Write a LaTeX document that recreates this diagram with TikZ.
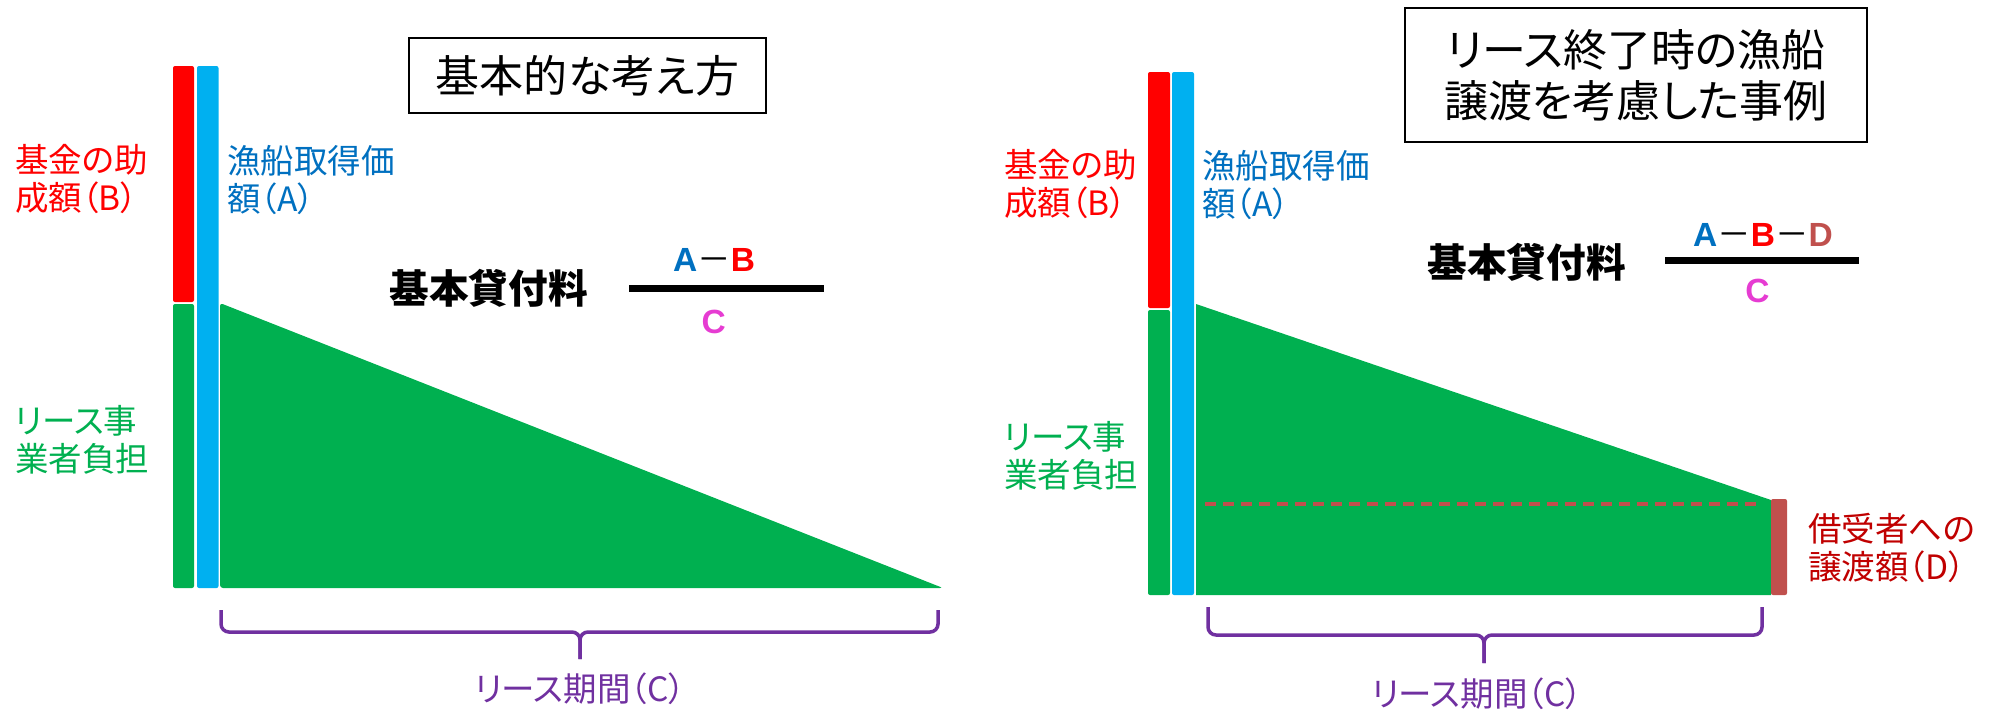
\documentclass[tikz,border=0pt]{standalone}
\usepackage{fontspec}
\usepackage{tikz}
\usetikzlibrary{positioning}
\newfontfamily\jpfont{Noto Sans CJK JP}[RawFeature={+palt}]
\newfontfamily\ltfont{Liberation Sans}
\definecolor{barred}{HTML}{FF0000}
\definecolor{barblue}{HTML}{00B0F0}
\definecolor{bargreen}{HTML}{00B050}
\definecolor{txtblue}{HTML}{0070C0}
\definecolor{dbar}{HTML}{C0504D}
\definecolor{dtext}{HTML}{C00000}
\definecolor{brpurple}{HTML}{7030A0}
\definecolor{cmag}{HTML}{E63CD2}
\newcommand{\mns}{{\jpfont\mdseries －}}

\begin{document}
\begin{tikzpicture}[x=0.5pt,y=-0.5pt,
    every node/.style={inner sep=0pt,outer sep=0pt},
    bar/.style={rounded corners=1pt},
    lbl/.style={anchor=west,align=left,font=\jpfont\fontsize{16.75}{19}\selectfont},
    ttl/.style={draw,line width=1pt,align=center,font=\jpfont\fontsize{22}{25.5}\selectfont},
    kihon/.style={font=\jpfont\bfseries\fontsize{19.8}{22}\selectfont},
    frm/.style={font=\ltfont\bfseries\fontsize{16.75}{18}\selectfont},
    frac/.style={line width=3.5pt},
    brc/.style={draw=brpurple,line width=1.75pt,rounded corners=4pt},
    period/.style={text=brpurple,font=\jpfont\fontsize{16.75}{19}\selectfont}]
  \useasboundingbox (0,0) rectangle (1995,709);

  \node[ttl,minimum width=178.5pt,minimum height=37.5pt] (t1) at (587.5,75.5) {基本的な考え方};
  \fill[bar,barred] (173,66) rectangle (194,302);
  \fill[bar,bargreen] (173,304) rectangle (194,588);
  \fill[bar,barblue] (197,66) rectangle (218.5,588);
  \fill[bargreen,rounded corners=1.5pt] (220,303) -- (943,588) -- (220,588) -- cycle;
  \node[lbl,text=barred] (b1) at (15,179) {基金の助\\成額（B）};
  \node[lbl,text=txtblue] (a1) at (227,180) {漁船取得価\\額（A）};
  \node[lbl,text=bargreen] (g1) at (15,440) {リース事\\業者負担};
  \node[kihon] (k1) at (488.6,288) {基本貸付料};
  \draw[frac] (629,288) -- (824,288);
  \node[frm] (n1) at (714,260) {\textcolor{txtblue}{A}\mns\textcolor{barred}{B}};
  \node[frm,text=cmag] (c1) at (713.6,321.5) {C};
  \draw[brc] (221,610) -- (221,632) -- (580,632) -- (580,659);
  \draw[brc] (938,610) -- (938,632) -- (580,632) -- (580,659);
  \node[period] (p1) at (580,689) {リース期間（C）};

  \node[ttl,minimum width=231pt,minimum height=67pt] (t2) at (1636,75) {リース終了時の漁船\\譲渡を考慮した事例};
  \fill[bar,barred] (1148,72) rectangle (1170,308);
  \fill[bar,bargreen] (1148,310) rectangle (1170,595);
  \fill[bar,barblue] (1172,72) rectangle (1194,595);
  \fill[bargreen] (1196,304) -- (1771,500) -- (1771,595) -- (1196,595) -- cycle;
  \draw[dbar,line width=2pt,dash pattern=on 5.5pt off 3.5pt] (1205,504) -- (1760,504);
  \fill[bar,dbar] (1771,499) rectangle (1787,595);
  \node[lbl,text=barred] (b2) at (1004,184) {基金の助\\成額（B）};
  \node[lbl,text=txtblue] (a2) at (1202,185) {漁船取得価\\額（A）};
  \node[lbl,text=bargreen] (g2) at (1004,456) {リース事\\業者負担};
  \node[lbl,text=dtext] (d2) at (1808,548) {借受者への\\譲渡額（D）};
  \node[kihon] (k2) at (1526.7,262) {基本貸付料};
  \draw[frac] (1665,260) -- (1859,260);
  \node[frm] (n2) at (1763,235) {\textcolor{txtblue}{A}\mns\textcolor{barred}{B}\mns\textcolor{dbar}{D}};
  \node[frm,text=cmag] (c2) at (1757.5,291) {C};
  \draw[brc] (1208,607) -- (1208,635) -- (1484,635) -- (1484,663);
  \draw[brc] (1762,607) -- (1762,635) -- (1484,635) -- (1484,663);
  \node[period] (p2) at (1477,694) {リース期間（C）};
\end{tikzpicture}
\end{document}
